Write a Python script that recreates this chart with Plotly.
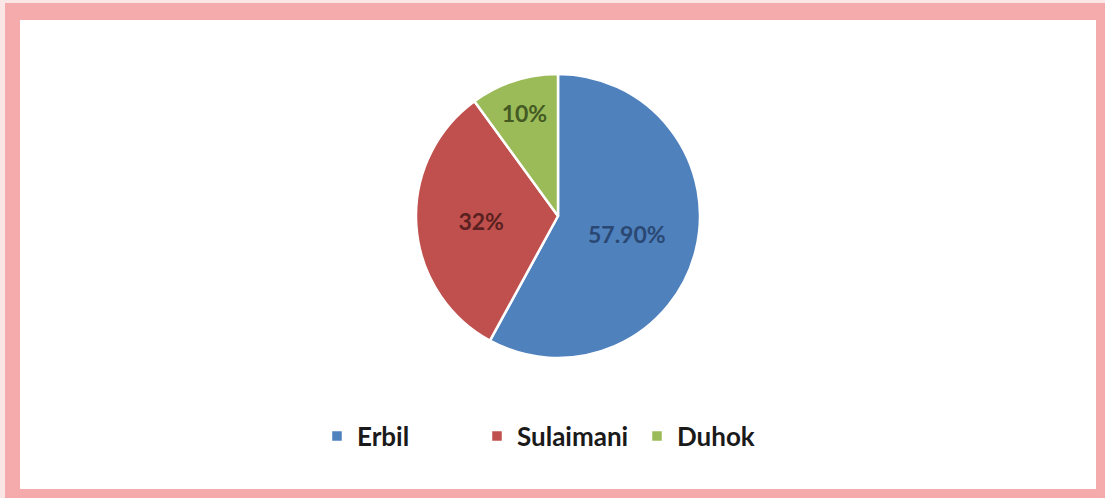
import plotly.graph_objects as go

# data
regions = ["Erbil", "Sulaimani", "Duhok"]
shares = [57.9, 32, 10]
share_labels = ["57.90%", "32%", "10%"]

colors = ["#4F81BD", "#C0504D", "#9BBB59"]
text_colors = ["#2A4873", "#5A2120", "#445A22"]

W, H = 1105, 498


def px(x):
    return x / W


def py(y):
    return 1 - y / H


fig = go.Figure()
fig.add_trace(go.Pie(
    labels=regions,
    values=shares,
    text=share_labels,
    textinfo="text",
    textposition="inside",
    insidetextorientation="horizontal",
    sort=False,
    direction="clockwise",
    rotation=0,
    marker=dict(colors=colors, line=dict(color="white", width=2.5)),
    insidetextfont=dict(color=text_colors, size=23, family="Lato", weight="bold"),
    domain=dict(x=[px(416), px(700)], y=[py(358), py(74)]),
    hoverinfo="label+value",
))

# pink frame around the chart area
fig.add_shape(type="rect", xref="paper", yref="paper", layer="below",
              x0=0, x1=1, y0=0, y1=1, line=dict(width=0), fillcolor="#FBE6E6")
fig.add_shape(type="rect", xref="paper", yref="paper", layer="below",
              x0=px(5), x1=1, y0=0, y1=py(3), line=dict(width=0), fillcolor="#F5ABAB")
fig.add_shape(type="rect", xref="paper", yref="paper", layer="below",
              x0=px(20), x1=px(1096), y0=py(489), y1=py(20), line=dict(width=0), fillcolor="white")

fig.update_layout(
    width=W,
    height=H,
    margin=dict(l=0, r=0, t=0, b=0),
    paper_bgcolor="white",
    showlegend=True,
    legend=dict(
        orientation="h",
        x=px(557), xanchor="center",
        y=py(436), yanchor="middle",
        font=dict(family="Lato", size=26, color="#1a1a1a", weight="bold"),
        entrywidth=115,
        bgcolor="rgba(0,0,0,0)",
    ),
)

fig.write_html("out.html", config={"displayModeBar": False},
               post_script="document.body.style.margin='0px';")
